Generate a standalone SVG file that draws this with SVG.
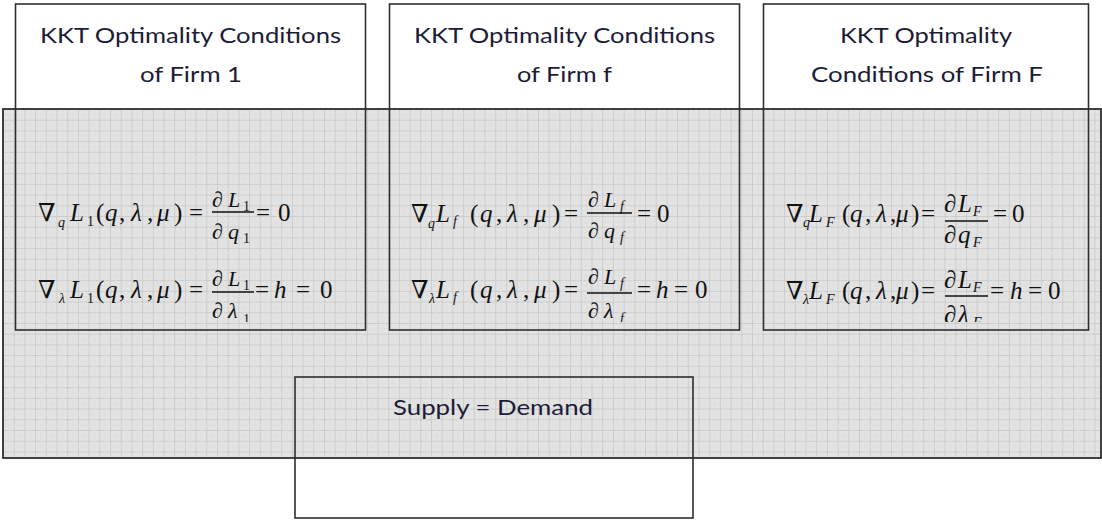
<svg xmlns="http://www.w3.org/2000/svg" width="1102" height="523" viewBox="0 0 1102 523">
<style>
.box{fill:none;stroke:#2e2e2e;stroke-width:1.6}
.title{font-family:Lato,"Open Sans","Liberation Sans",sans-serif;font-size:22px;fill:#1c1c38;text-anchor:middle}
.eq{font-family:"Liberation Serif","DejaVu Serif",serif;font-size:25px;fill:#111}
.eq3{font-family:"Liberation Serif","DejaVu Serif",serif;font-size:25px;fill:#111}
.fr{font-size:22px}
.i{font-style:italic}
.s{font-size:14px}
.bar{stroke:#111;stroke-width:1.3}
</style>
<defs>
<pattern id="grid" patternUnits="userSpaceOnUse" x="3" y="109" width="10.7" height="10.7">
<rect width="10.7" height="10.7" fill="#e3e3e3"/>
<path d="M0 0.5H10.7M0.5 0V10.7" stroke="#cbcbcb" stroke-width="1" fill="none"/>
<path d="M0 5.8H10.7M5.8 0V10.7" stroke="#dadada" stroke-width="1" stroke-dasharray="1 1.2" fill="none"/>
</pattern>
<clipPath id="eqclip"><rect x="0" y="0" width="1102" height="322"/></clipPath>
</defs>
<rect width="1102" height="523" fill="#fff"/>

<g id="market-panel">
<rect x="3" y="109" width="1098" height="349" fill="url(#grid)" stroke="#2e2e2e" stroke-width="1.8"/>
</g>

<g id="connectors"></g>

<g id="firm-1">
<rect class="box" x="15.5" y="4" width="350" height="326"/>
<text class="title" x="190.5" y="43" textLength="301" lengthAdjust="spacingAndGlyphs">KKT Optimality Conditions</text>
<text class="title" x="191" y="82" textLength="102" lengthAdjust="spacingAndGlyphs">of Firm 1</text>
<g clip-path="url(#eqclip)">
<text class="eq" y="221"><tspan x="38">∇</tspan><tspan class="i s" x="58" y="227">q</tspan><tspan class="i" x="70" y="221">L</tspan><tspan class="s" x="87" y="226">1</tspan><tspan x="96" y="221">(</tspan><tspan class="i" x="105">q</tspan><tspan x="119">,</tspan><tspan class="i" x="131">λ</tspan><tspan x="147">,</tspan><tspan class="i" x="157">μ</tspan><tspan x="174">)</tspan><tspan x="189">=</tspan><tspan x="256">=</tspan><tspan x="278">0</tspan></text>
<text class="eq fr" y="207"><tspan x="212">∂</tspan><tspan class="i" x="228">L</tspan><tspan class="s" x="243" y="211">1</tspan></text>
<line class="bar" x1="212" y1="212" x2="254" y2="212"/>
<text class="eq fr" y="239"><tspan x="212">∂</tspan><tspan class="i" x="228">q</tspan><tspan class="s" x="243" y="243">1</tspan></text>

<text class="eq" y="298"><tspan x="38">∇</tspan><tspan class="i s" x="59" y="303">λ</tspan><tspan class="i" x="70" y="298">L</tspan><tspan class="s" x="87" y="303">1</tspan><tspan x="96" y="298">(</tspan><tspan class="i" x="105">q</tspan><tspan x="119">,</tspan><tspan class="i" x="131">λ</tspan><tspan x="147">,</tspan><tspan class="i" x="157">μ</tspan><tspan x="174">)</tspan><tspan x="189">=</tspan><tspan x="255">=</tspan><tspan class="i" x="274">h</tspan><tspan x="296">=</tspan><tspan x="320">0</tspan></text>
<text class="eq fr" y="286"><tspan x="212">∂</tspan><tspan class="i" x="228">L</tspan><tspan class="s" x="243" y="290">1</tspan></text>
<line class="bar" x1="212" y1="292" x2="254" y2="292"/>
<text class="eq fr" y="318"><tspan x="212">∂</tspan><tspan class="i" x="228">λ</tspan><tspan class="s" x="243" y="324">1</tspan></text>
</g>
</g>

<g id="firm-f">
<rect class="box" x="389.5" y="4" width="350" height="326"/>
<text class="title" x="564.5" y="43" textLength="301" lengthAdjust="spacingAndGlyphs">KKT Optimality Conditions</text>
<text class="title" x="564.5" y="82" textLength="95" lengthAdjust="spacingAndGlyphs">of Firm f</text>
<g clip-path="url(#eqclip)">
<text class="eq" y="222"><tspan x="411">∇</tspan><tspan class="i s" x="428" y="228">q</tspan><tspan class="i" x="436" y="222">L</tspan><tspan class="i s" x="453" y="226">f</tspan><tspan x="470" y="222">(</tspan><tspan class="i" x="480">q</tspan><tspan x="496">,</tspan><tspan class="i" x="507">λ</tspan><tspan x="523">,</tspan><tspan class="i" x="534">μ</tspan><tspan x="552">)</tspan><tspan x="564">=</tspan><tspan x="637">=</tspan><tspan x="657">0</tspan></text>
<text class="eq fr" y="207"><tspan x="588">∂</tspan><tspan class="i" x="604">L</tspan><tspan class="i s" x="620" y="211">f</tspan></text>
<line class="bar" x1="587" y1="213" x2="632" y2="213"/>
<text class="eq fr" y="238"><tspan x="588">∂</tspan><tspan class="i" x="604">q</tspan><tspan class="i s" x="620" y="242">f</tspan></text>

<text class="eq" y="298"><tspan x="411">∇</tspan><tspan class="i s" x="429" y="303">λ</tspan><tspan class="i" x="436" y="298">L</tspan><tspan class="i s" x="453" y="302">f</tspan><tspan x="470" y="298">(</tspan><tspan class="i" x="480">q</tspan><tspan x="496">,</tspan><tspan class="i" x="507">λ</tspan><tspan x="523">,</tspan><tspan class="i" x="534">μ</tspan><tspan x="552">)</tspan><tspan x="564">=</tspan><tspan x="637">=</tspan><tspan class="i" x="656">h</tspan><tspan x="674">=</tspan><tspan x="695">0</tspan></text>
<text class="eq fr" y="284"><tspan x="588">∂</tspan><tspan class="i" x="604">L</tspan><tspan class="i s" x="620" y="288">f</tspan></text>
<line class="bar" x1="587" y1="293" x2="632" y2="293"/>
<text class="eq fr" y="318"><tspan x="588">∂</tspan><tspan class="i" x="604">λ</tspan><tspan class="i s" x="620" y="323">f</tspan></text>
</g>
</g>

<g id="firm-F">
<rect class="box" x="763.5" y="4" width="325" height="326"/>
<text class="title" x="926" y="43" textLength="172" lengthAdjust="spacingAndGlyphs">KKT Optimality</text>
<text class="title" x="927" y="82" textLength="232" lengthAdjust="spacingAndGlyphs">Conditions of Firm F</text>
<g clip-path="url(#eqclip)">
<text class="eq3" y="222"><tspan x="786">∇</tspan><tspan class="i s" x="803" y="227">q</tspan><tspan class="i" x="809" y="222">L</tspan><tspan class="i s" x="826" y="227">F</tspan><tspan x="842" y="222">(</tspan><tspan class="i" x="850">q</tspan><tspan x="865">,</tspan><tspan class="i" x="876">λ</tspan><tspan x="890">,</tspan><tspan class="i" x="896">μ</tspan><tspan x="911">)</tspan><tspan x="921">=</tspan><tspan x="993">=</tspan><tspan x="1012">0</tspan></text>
<text class="eq3" y="212"><tspan x="944">∂</tspan><tspan class="i" x="958">L</tspan><tspan class="i s" x="973" y="216">F</tspan></text>
<line class="bar" x1="945" y1="221" x2="988" y2="221"/>
<text class="eq3" y="243"><tspan x="944">∂</tspan><tspan class="i" x="958">q</tspan><tspan class="i s" x="973" y="247">F</tspan></text>

<text class="eq3" y="299"><tspan x="786">∇</tspan><tspan class="i s" x="803" y="304">λ</tspan><tspan class="i" x="809" y="299">L</tspan><tspan class="i s" x="826" y="304">F</tspan><tspan x="842" y="299">(</tspan><tspan class="i" x="850">q</tspan><tspan x="865">,</tspan><tspan class="i" x="876">λ</tspan><tspan x="890">,</tspan><tspan class="i" x="896">μ</tspan><tspan x="911">)</tspan><tspan x="921">=</tspan><tspan x="990">=</tspan><tspan class="i" x="1010">h</tspan><tspan x="1028">=</tspan><tspan x="1048">0</tspan></text>
<text class="eq3" y="288"><tspan x="944">∂</tspan><tspan class="i" x="958">L</tspan><tspan class="i s" x="973" y="292">F</tspan></text>
<line class="bar" x1="945" y1="296" x2="988" y2="296"/>
<text class="eq3" y="323"><tspan x="944">∂</tspan><tspan class="i" x="958">λ</tspan><tspan class="i s" x="973" y="327">F</tspan></text>
</g>
</g>

<g id="supply-demand">
<rect class="box" x="295" y="377" width="398" height="141"/>
<text class="title" x="493" y="415" textLength="200" lengthAdjust="spacingAndGlyphs">Supply = Demand</text>
</g>
</svg>
